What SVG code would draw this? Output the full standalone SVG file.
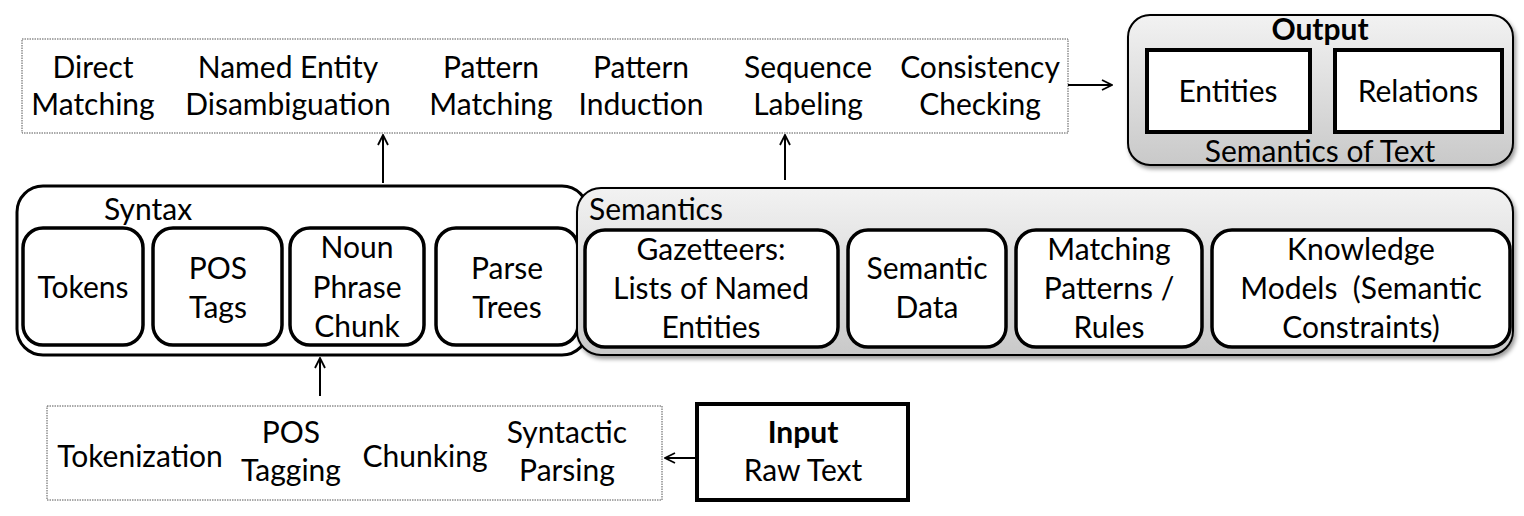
<svg xmlns="http://www.w3.org/2000/svg" width="1524" height="516" viewBox="0 0 1524 516">
<style>
text{font-family:Lato,"Liberation Sans",sans-serif;font-size:30px;fill:#000;text-anchor:middle}
.b{font-weight:bold}
.l{text-anchor:start}
.dot{fill:#fff;stroke:#555;stroke-width:1;stroke-dasharray:1.5 1}
.in{fill:#fff;stroke:#000;stroke-width:3.5}
.grp{stroke:#000;stroke-width:2}
.sq{fill:#fff;stroke:#000;stroke-width:4}
.c{stroke:#000;stroke-width:2;fill:none}
</style>
<defs>
<linearGradient id="g" x1="0" y1="0" x2="0" y2="1">
<stop offset="0" stop-color="#f2f2f2"/>
<stop offset="1" stop-color="#c9c9c9"/>
</linearGradient>
<filter id="sh" x="-5%" y="-5%" width="110%" height="120%">
<feDropShadow dx="2" dy="3" stdDeviation="2" flood-color="#000" flood-opacity="0.4"/>
</filter>
<marker id="a" viewBox="0 0 12 12" refX="11" refY="6" markerWidth="12" markerHeight="12" markerUnits="userSpaceOnUse" orient="auto">
<path d="M1,1 L11,6 L1,11" fill="none" stroke="#000" stroke-width="1.8"/>
</marker>
</defs>

<g id="methods">
<rect class="dot" x="22" y="39" width="1046" height="94"/>
<text x="93" y="78">Direct</text><text x="93" y="115">Matching</text>
<text x="288" y="78">Named Entity</text><text x="288" y="115">Disambiguation</text>
<text x="491" y="78">Pattern</text><text x="491" y="115">Matching</text>
<text x="641" y="78">Pattern</text><text x="641" y="115">Induction</text>
<text x="808" y="78">Sequence</text><text x="808" y="115">Labeling</text>
<text x="980" y="78">Consistency</text><text x="980" y="115">Checking</text>
</g>

<g id="output">
<rect x="1128" y="15" width="385" height="150" rx="22" fill="url(#g)" class="grp" filter="url(#sh)"/>
<text class="b" x="1320" y="40" font-size="28">Output</text>
<rect class="sq" x="1147" y="50" width="163" height="82"/>
<text x="1228" y="102">Entities</text>
<rect class="sq" x="1335" y="50" width="167" height="82"/>
<text x="1418" y="102">Relations</text>
<text x="1320" y="162">Semantics of Text</text>
</g>

<g id="syntax">
<rect x="17" y="186" width="571" height="169" rx="26" fill="#fff" stroke="#000" stroke-width="3"/>
<text class="l" x="104" y="220" font-size="28">Syntax</text>
<rect class="in" x="23" y="228" width="120" height="117" rx="20"/>
<text x="83" y="298">Tokens</text>
<rect class="in" x="153" y="228" width="129" height="117" rx="20"/>
<text x="218" y="279">POS</text><text x="218" y="318">Tags</text>
<rect class="in" x="290" y="228" width="134" height="117" rx="20"/>
<text x="357" y="258">Noun</text><text x="357" y="298">Phrase</text><text x="357" y="337">Chunk</text>
<rect class="in" x="436" y="228" width="142" height="117" rx="20"/>
<text x="507" y="279">Parse</text><text x="507" y="318">Trees</text>
</g>

<g id="semantics">
<rect x="577" y="188" width="936" height="167" rx="24" fill="url(#g)" class="grp" filter="url(#sh)"/>
<text class="l" x="589" y="220" font-size="28">Semantics</text>
<rect class="in" x="585" y="230" width="253" height="117" rx="20"/>
<text x="711" y="260">Gazetteers:</text><text x="711" y="299">Lists of Named</text><text x="711" y="338">Entities</text>
<rect class="in" x="848" y="230" width="158" height="117" rx="20"/>
<text x="927" y="279">Semantic</text><text x="927" y="318">Data</text>
<rect class="in" x="1016" y="230" width="186" height="117" rx="20"/>
<text x="1109" y="260">Matching</text><text x="1109" y="299">Patterns /</text><text x="1109" y="338">Rules</text>
<rect class="in" x="1212" y="230" width="298" height="117" rx="20"/>
<text x="1361" y="260">Knowledge</text><text x="1361" y="299" xml:space="preserve">Models  (Semantic</text><text x="1361" y="338">Constraints)</text>
</g>

<g id="processing">
<rect class="dot" x="47" y="406" width="615" height="94"/>
<text x="140" y="467">Tokenization</text>
<text x="291" y="443">POS</text><text x="291" y="481">Tagging</text>
<text x="425" y="467">Chunking</text>
<text x="567" y="443">Syntactic</text><text x="567" y="481">Parsing</text>
</g>

<g id="input">
<rect class="sq" x="697" y="404" width="211" height="96"/>
<text class="b" x="803" y="443">Input</text>
<text x="803" y="481">Raw Text</text>
</g>

<g id="connectors">
<line class="c" x1="1068" y1="85" x2="1112" y2="85" marker-end="url(#a)"/>
<line class="c" x1="383" y1="183" x2="383" y2="135" marker-end="url(#a)"/>
<line class="c" x1="785" y1="180" x2="785" y2="135" marker-end="url(#a)"/>
<line class="c" x1="320" y1="396" x2="320" y2="358" marker-end="url(#a)"/>
<line class="c" x1="697" y1="458" x2="665" y2="458" marker-end="url(#a)"/>
</g>
</svg>
